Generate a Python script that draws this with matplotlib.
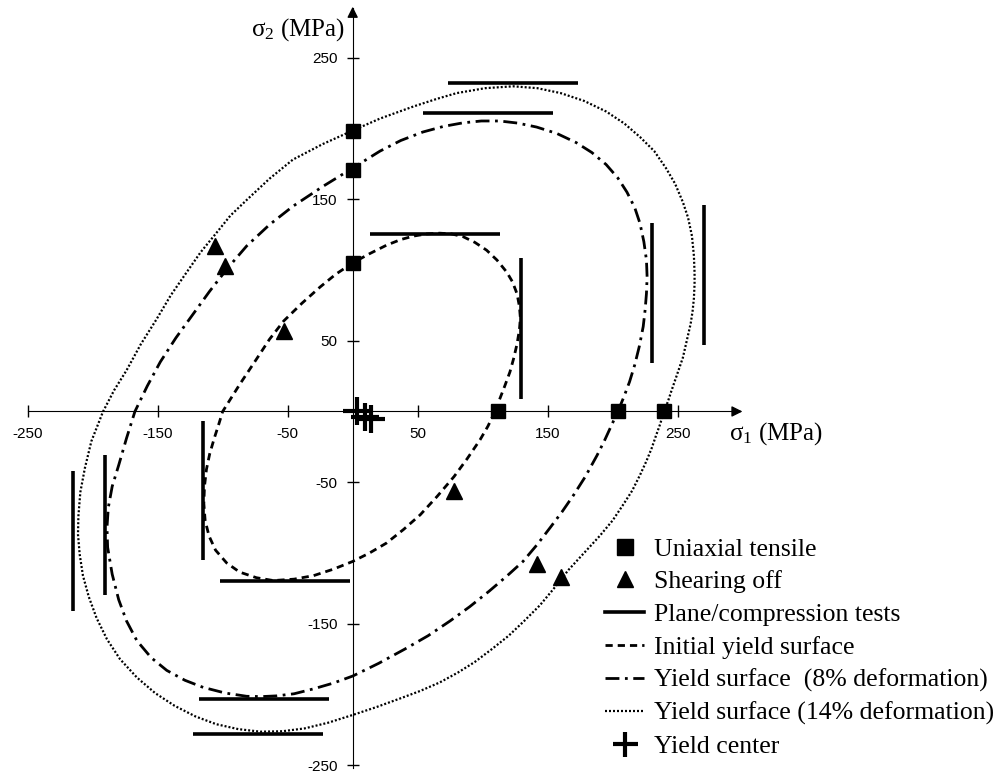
import matplotlib
matplotlib.use("Agg")
import matplotlib.pyplot as plt
from matplotlib.lines import Line2D

plt.rcParams['mathtext.fontset'] = 'custom'
plt.rcParams['mathtext.rm'] = 'Liberation Serif'
plt.rcParams['mathtext.it'] = 'Liberation Serif:italic'
plt.rcParams['axes.unicode_minus'] = False

# yield surfaces, points (sigma1, sigma2) in MPa
init_s1 = [112, 113, 117, 121, 124, 126.5, 128.3, 129, 128.3, 126.5, 123, 118.5, 111, 103, 94, 85, 76,
           67, 57, 47, 37, 26, 13, 0, -13, -25, -39, -53, -64, -74, -87, -100, -103, -106.5, -110,
           -112.5, -114, -114.5, -113.5, -110.5, -105.5, -97, -87, -74, -61, -45, -30, -15, 0, 13,
           26, 39, 52, 65, 78, 88, 98, 104, 109, 112]
init_s2 = [0, 8.5, 18, 28, 38, 48, 58, 66, 74, 83, 91.5, 98.5, 107, 114, 119.5, 123.5, 125.5,
           126, 125.5, 124, 121.5, 117.5, 111.5, 105, 97, 88, 76.5, 64, 51, 37, 19, 0, -9, -19, -30,
           -41, -53, -65, -77, -88, -98, -107, -113.5, -117.5, -119.5, -118.5, -116, -111.5, -106, -100,
           -93, -83.5, -73, -60, -46, -33.5, -20, -10.5, -1, 0]

def8_s1 = [204, 208.5, 213, 217, 220.5, 223.5, 225, 226, 226.5, 226, 224, 221, 217, 211, 204, 195,
           184, 172, 157, 141.5, 127, 113, 99, 85, 70, 54, 37, 21, 0, -23, -46, -64, -81.5, -96,
           -110, -123, -136, -148, -158, -167.5, -174, -180, -185, -188, -189, -188.5, -185, -180,
           -174, -166, -155, -143, -129, -115, -98, -81.5, -70, -58.5, -45, -30, -15, 0, 20, 40,
           58, 75, 90, 105, 119, 131, 142, 152, 161, 170, 179, 188, 193.5, 199, 204]
def8_s2 = [0, 10, 21, 33, 46, 60, 72, 83.5, 95, 107, 120, 133, 144, 155, 165, 174.5,
           183, 190, 196.5, 201, 203.8, 205.3, 205.3, 204, 201.5, 197.5, 191.5, 184, 172, 159, 145,
           132, 117, 101.5, 85, 68.5, 52, 35, 18, 0, -19, -38, -53, -68, -82, -96, -115, -133,
           -148, -162, -174, -183, -190, -195, -199, -201.3, -201.5, -201, -199.5, -196, -192, -187,
           -178, -168, -158.5, -148, -138, -127, -116, -106, -94, -82, -71, -59, -46, -31, -21, -10, 0]

def14_s1 = [239.5, 242.5, 245, 248, 251, 254, 256, 258, 260, 261.5, 262.5, 263, 263, 262.5, 261,
            258, 254, 248, 241, 232, 221, 209, 195, 178, 160, 142, 123.5, 102, 80, 65, 46.6, 21,
            0, -23, -46, -64, -81.5, -94, -105, -117, -128, -140, -151, -163, -174, -183.5, -192,
            -201, -206, -209.5, -211, -211.3, -210, -207.5, -203, -197, -189, -179, -166, -152, -137,
            -121, -105, -88, -71, -54, -37, -19, 0, 18, 36, 52, 67, 81, 94, 107, 120, 132, 144, 154,
            166, 178, 190, 200, 208, 215, 221, 226, 230, 233, 236.5, 239.5]
def14_s2 = [0, 7, 14, 22, 30, 38, 46, 54, 62, 71, 80, 90, 98, 110, 124,
            137, 148, 161, 172, 184, 194, 203.5, 212, 219.5, 225, 228.5, 229.8, 228.5, 225, 221, 215.5, 207,
            198.5, 189, 178, 164.5, 149.5, 138.5, 126, 112.5, 98, 82, 65, 47.5, 29, 15, 0,
            -21, -40, -57, -74, -87, -101, -116, -131, -146, -161, -175, -188, -199, -208,
            -215.5, -221, -224.5, -226.3, -226, -224, -220, -214.5, -209, -203, -197.5, -191.5, -184.5,
            -177, -168, -158.5, -148, -137, -126, -112, -100, -88, -77, -66, -56, -45, -35, -26, -18,
            -9, 0]

# test points
tensile_s1 = [0, 0, 0, 112, 204, 239.5]
tensile_s2 = [105, 171, 198, 0, 0, 0]
shear_s1 = [-53, 78, -98, 141.5, -106, 160]
shear_s2 = [57, -56, 103, -108, 117, -117]
center_s1 = [3, 9.5, 14]
center_s2 = [0, -4, -5.5]

# plane / compression tests: horizontal (y, x0, x1) and vertical (x, y0, y1)
plane_h_y = [125.5, -120, 211, -203.4, 232.4, -228]
plane_h_x0 = [13, -102, 54, -118, 73, -122.6]
plane_h_x1 = [113, -2, 154, -18, 173, -23]
plane_v_x = [129.5, -115, 230.5, -190.5, 270.5, -215.4]
plane_v_y0 = [9, -105, 34.5, -130, 47, -141]
plane_v_y1 = [108.5, -7, 133.5, -31, 146, -42]

ticks = [-250, -150, -50, 50, 150, 250]

fig = plt.figure(figsize=(9.99, 7.72), dpi=100)
ax = fig.add_axes([0, 0, 1, 1])
ax.set_xlim(-271.3, 497.2)
ax.set_ylim(-254.8, 290.8)

# axes through the origin
for s in ['top', 'right']:
    ax.spines[s].set_visible(False)
ax.spines['left'].set_position(('data', 0))
ax.spines['bottom'].set_position(('data', 0))
ax.spines['left'].set_bounds(-252, 285)
ax.spines['bottom'].set_bounds(-250, 298)
ax.annotate('', xy=(302, 0), xytext=(290, 0),
            arrowprops=dict(arrowstyle='-|>', color='k', lw=1, mutation_scale=16))
ax.annotate('', xy=(0, 288), xytext=(0, 278),
            arrowprops=dict(arrowstyle='-|>', color='k', lw=1, mutation_scale=16))
ax.set_xticks(ticks)
ax.set_yticks(ticks)
ax.tick_params(direction='inout', length=8, width=1, labelsize=11, pad=7)
for lab in ax.get_xticklabels() + ax.get_yticklabels():
    lab.set_family('Liberation Sans')

ax.plot(init_s1, init_s2, color='k', lw=2, linestyle=(0, (2.6, 1.8)))
ax.plot(def8_s1, def8_s2, color='k', lw=2, linestyle=(0, (5, 2, 1, 2)))
ax.plot(def14_s1, def14_s2, color='k', lw=1.6, linestyle=(0, (0.9, 0.9)))

ax.hlines(plane_h_y, plane_h_x0, plane_h_x1, color='k', lw=2.6)
ax.vlines(plane_v_x, plane_v_y0, plane_v_y1, color='k', lw=2.6)

ax.plot(tensile_s1, tensile_s2, 's', color='k', ms=10.5, clip_on=False)
ax.plot(shear_s1, shear_s2, '^', color='k', ms=11.5)
ax.plot(center_s1, center_s2, '+', color='k', ms=20, mew=3)

serif = 'Liberation Serif'
ax.text(0.73, 0.439, r'$\mathrm{\sigma_1}$ (MPa)', transform=ax.transAxes, fontsize=18,
        family=serif, va='center', ha='left')
ax.text(0.345, 0.962, r'$\mathrm{\sigma_2}$ (MPa)', transform=ax.transAxes, fontsize=18,
        family=serif, va='center', ha='right')

handles = [
    Line2D([], [], ls='none', marker='s', color='k', ms=11),
    Line2D([], [], ls='none', marker='^', color='k', ms=11.5),
    Line2D([], [], color='k', lw=2.6),
    Line2D([], [], color='k', lw=2, linestyle=(0, (2.6, 1.8))),
    Line2D([], [], color='k', lw=2, linestyle=(0, (5, 2, 1, 2))),
    Line2D([], [], color='k', lw=1.6, linestyle=(0, (0.9, 0.9))),
    Line2D([], [], ls='none', marker='+', color='k', ms=18, mew=3),
]
labels = ['Uniaxial tensile', 'Shearing off', 'Plane/compression tests', 'Initial yield surface',
          'Yield surface  (8% deformation)', 'Yield surface (14% deformation)', 'Yield center']
ax.legend(handles, labels, loc='upper left', bbox_to_anchor=(0.606, 0.3035), frameon=False,
          prop={'family': serif, 'size': 18.5}, borderpad=0, borderaxespad=0,
          handlelength=1.5, handletextpad=0.4, labelspacing=0.38)

fig.savefig('out.png', dpi=100)
